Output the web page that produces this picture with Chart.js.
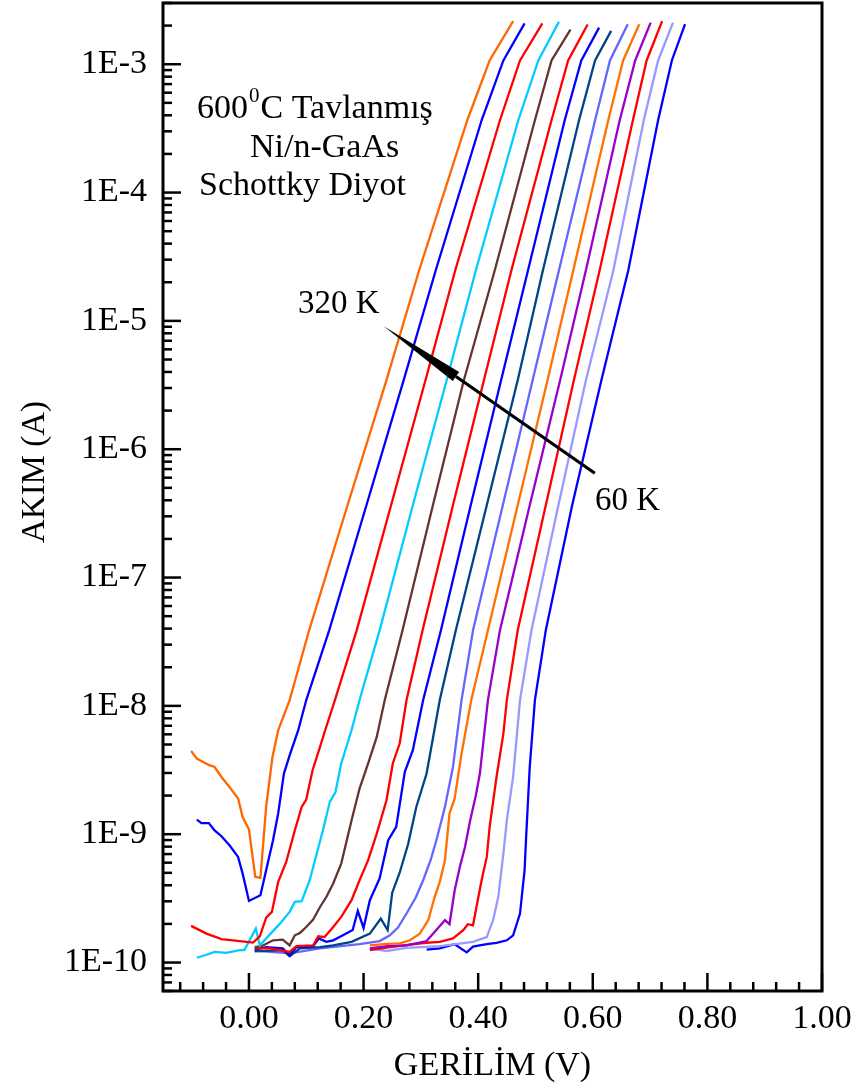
<!DOCTYPE html>
<html>
<head>
<meta charset="utf-8">
<title>Ni/n-GaAs I-V</title>
<script src="https://cdn.jsdelivr.net/npm/chart.js@4.4.0/dist/chart.umd.min.js"></script>
<style>
  html, body { margin: 0; padding: 0; background: #fff; }
  canvas { display: block; }
</style>
</head>
<body>
<canvas id="ivChart" width="860" height="1090"></canvas>
<script>
// forward I-V curves, one per temperature (V in volts, I in amps)
const temps = [320, 300, 280, 260, 240, 220, 200, 180, 160, 140, 120, 100, 80, 60]
const colors = ['#FF6600', '#0000FF', '#FF0000', '#00CCFF', '#663333', '#FF0000', '#0000FF',
  '#004488', '#6666FF', '#FF7000', '#9900CC', '#FF0000', '#9999FF', '#0000FF']

const v320 = [-0.101, -0.091, -0.080, -0.069, -0.060, -0.048, -0.034, -0.019, -0.011, 0.000, 0.011, 0.020, 0.030, 0.041, 0.051, 0.071, 0.105, 0.172, 0.240, 0.297, 0.381, 0.420, 0.461]
const i320 = [4.46e-9, 3.89e-9, 3.66e-9, 3.45e-9, 3.34e-9, 2.79e-9, 2.33e-9, 1.90e-9, 1.36e-9, 1.09e-9, 4.65e-10, 4.56e-10, 1.63e-9, 4.00e-9, 6.46e-9, 1.11e-8, 3.88e-8, 3.66e-7, 3.45e-6, 2.48e-5, 3.66e-4, 1.07e-3, 2.17e-3]

const v300 = [-0.091, -0.083, -0.070, -0.060, -0.048, -0.034, -0.019, -0.011, 0.000, 0.020, 0.030, 0.042, 0.051, 0.061, 0.071, 0.086, 0.100, 0.140, 0.205, 0.270, 0.326, 0.406, 0.444, 0.481]
const i300 = [1.30e-9, 1.22e-9, 1.22e-9, 1.07e-9, 9.64e-10, 8.20e-10, 6.65e-10, 4.93e-10, 3.02e-10, 3.34e-10, 5.24e-10, 8.97e-10, 1.45e-9, 2.97e-9, 4.12e-9, 6.46e-9, 1.11e-8, 3.88e-8, 3.66e-7, 3.45e-6, 2.48e-5, 3.66e-4, 1.07e-3, 2.08e-3]

const v280 = [-0.101, -0.074, -0.048, -0.016, 0.007, 0.019, 0.030, 0.040, 0.051, 0.065, 0.080, 0.092, 0.100, 0.111, 0.124, 0.133, 0.150, 0.188, 0.248, 0.308, 0.360, 0.438, 0.473, 0.512]
const i280 = [1.93e-10, 1.68e-10, 1.52e-10, 1.47e-10, 1.43e-10, 1.60e-10, 2.24e-10, 2.48e-10, 4.25e-10, 6.08e-10, 1.07e-9, 1.63e-9, 1.86e-9, 3.15e-9, 4.79e-9, 6.46e-9, 1.11e-8, 3.88e-8, 3.66e-7, 3.45e-6, 2.48e-5, 3.66e-4, 1.07e-3, 2.08e-3]

const v260 = [-0.091, -0.074, -0.060, -0.040, -0.016, -0.008, 0.012, 0.019, 0.030, 0.054, 0.071, 0.080, 0.092, 0.106, 0.129, 0.141, 0.151, 0.161, 0.179, 0.193, 0.228, 0.286, 0.345, 0.396, 0.470, 0.505, 0.541]
const i260 = [1.09e-10, 1.15e-10, 1.21e-10, 1.19e-10, 1.25e-10, 1.25e-10, 1.84e-10, 1.36e-10, 1.54e-10, 2.01e-10, 2.48e-10, 2.97e-10, 3.01e-10, 4.38e-10, 1.07e-9, 1.78e-9, 2.13e-9, 3.56e-9, 6.46e-9, 1.11e-8, 3.88e-8, 3.66e-7, 3.45e-6, 2.48e-5, 3.66e-4, 1.07e-3, 2.14e-3]

const v240 = [0.010, 0.022, 0.042, 0.059, 0.071, 0.080, 0.089, 0.100, 0.112, 0.124, 0.135, 0.147, 0.161, 0.179, 0.193, 0.208, 0.223, 0.237, 0.268, 0.321, 0.375, 0.429, 0.499, 0.528, 0.561]
const i240 = [1.32e-10, 1.34e-10, 1.49e-10, 1.51e-10, 1.36e-10, 1.63e-10, 1.70e-10, 1.89e-10, 2.16e-10, 2.71e-10, 3.24e-10, 4.13e-10, 5.90e-10, 1.28e-9, 2.27e-9, 3.56e-9, 5.73e-9, 1.11e-8, 3.88e-8, 3.66e-7, 3.45e-6, 2.48e-5, 3.66e-4, 1.07e-3, 1.86e-3]

const v220 = [0.010, 0.036, 0.071, 0.083, 0.112, 0.121, 0.132, 0.147, 0.161, 0.179, 0.193, 0.208, 0.223, 0.240, 0.251, 0.263, 0.275, 0.303, 0.356, 0.410, 0.458, 0.528, 0.557, 0.591]
const i220 = [1.29e-10, 1.29e-10, 1.21e-10, 1.34e-10, 1.36e-10, 1.60e-10, 1.58e-10, 1.89e-10, 2.27e-10, 3.06e-10, 4.38e-10, 6.27e-10, 1.01e-9, 1.84e-9, 3.56e-9, 5.09e-9, 1.11e-8, 3.88e-8, 3.66e-7, 3.45e-6, 2.48e-5, 3.66e-4, 1.07e-3, 2.04e-3]

const v200 = [0.010, 0.030, 0.059, 0.071, 0.083, 0.112, 0.122, 0.135, 0.147, 0.164, 0.181, 0.190, 0.200, 0.211, 0.228, 0.243, 0.257, 0.272, 0.286, 0.304, 0.335, 0.387, 0.440, 0.487, 0.551, 0.580, 0.611]
const i200 = [1.26e-10, 1.32e-10, 1.29e-10, 1.14e-10, 1.32e-10, 1.34e-10, 1.54e-10, 1.45e-10, 1.49e-10, 1.63e-10, 1.79e-10, 2.52e-10, 1.86e-10, 3.06e-10, 4.52e-10, 8.97e-10, 1.14e-9, 3.06e-9, 4.51e-9, 1.11e-8, 3.88e-8, 3.66e-7, 3.45e-6, 2.48e-5, 3.66e-4, 1.07e-3, 1.93e-3]

const v180 = [0.010, 0.059, 0.071, 0.089, 0.124, 0.147, 0.179, 0.211, 0.230, 0.242, 0.250, 0.263, 0.278, 0.292, 0.310, 0.333, 0.361, 0.415, 0.469, 0.513, 0.576, 0.604, 0.632]
const i180 = [1.22e-10, 1.25e-10, 1.12e-10, 1.29e-10, 1.32e-10, 1.36e-10, 1.45e-10, 1.68e-10, 2.20e-10, 1.79e-10, 3.50e-10, 5.01e-10, 8.45e-10, 1.63e-9, 2.97e-9, 1.11e-8, 3.88e-8, 3.66e-7, 3.45e-6, 2.48e-5, 3.66e-4, 1.07e-3, 1.82e-3]

const v160 = [0.010, 0.071, 0.124, 0.193, 0.228, 0.246, 0.260, 0.275, 0.291, 0.304, 0.317, 0.327, 0.336, 0.342, 0.356, 0.371, 0.391, 0.443, 0.495, 0.541, 0.604, 0.630, 0.661]
const i160 = [1.24e-10, 1.18e-10, 1.29e-10, 1.39e-10, 1.47e-10, 1.63e-10, 1.87e-10, 2.41e-10, 3.21e-10, 4.38e-10, 6.27e-10, 8.97e-10, 1.28e-9, 1.63e-9, 3.34e-9, 1.11e-8, 3.88e-8, 3.66e-7, 3.45e-6, 2.48e-5, 3.66e-4, 1.07e-3, 2.05e-3]

const v140 = [0.211, 0.234, 0.263, 0.281, 0.298, 0.313, 0.324, 0.333, 0.342, 0.350, 0.359, 0.371, 0.388, 0.417, 0.469, 0.521, 0.566, 0.627, 0.653, 0.681]
const i140 = [1.36e-10, 1.39e-10, 1.41e-10, 1.49e-10, 1.68e-10, 2.14e-10, 3.24e-10, 4.25e-10, 6.27e-10, 1.45e-9, 1.90e-9, 4.25e-9, 1.11e-8, 3.88e-8, 3.66e-7, 3.45e-6, 2.48e-5, 3.66e-4, 1.07e-3, 2.05e-3]

const v120 = [0.211, 0.240, 0.275, 0.310, 0.327, 0.342, 0.350, 0.359, 0.368, 0.377, 0.386, 0.396, 0.403, 0.417, 0.438, 0.490, 0.543, 0.588, 0.647, 0.674, 0.701]
const i120 = [1.29e-10, 1.34e-10, 1.36e-10, 1.47e-10, 1.79e-10, 2.14e-10, 1.99e-10, 3.66e-10, 5.56e-10, 7.96e-10, 1.28e-9, 2.01e-9, 2.97e-9, 1.11e-8, 3.88e-8, 3.66e-7, 3.45e-6, 2.48e-5, 3.66e-4, 1.07e-3, 2.11e-3]

const v100 = [0.211, 0.246, 0.304, 0.333, 0.356, 0.374, 0.382, 0.391, 0.397, 0.406, 0.415, 0.420, 0.432, 0.444, 0.450, 0.469, 0.518, 0.567, 0.612, 0.670, 0.694, 0.721]
const i100 = [1.25e-10, 1.32e-10, 1.42e-10, 1.45e-10, 1.54e-10, 1.79e-10, 1.99e-10, 1.95e-10, 2.71e-10, 4.38e-10, 6.65e-10, 1.14e-9, 2.79e-9, 6.08e-9, 1.11e-8, 3.88e-8, 3.66e-7, 3.45e-6, 2.48e-5, 3.66e-4, 1.07e-3, 2.17e-3]

const v80 = [0.211, 0.240, 0.275, 0.333, 0.391, 0.415, 0.426, 0.435, 0.444, 0.450, 0.461, 0.473, 0.493, 0.540, 0.588, 0.636, 0.689, 0.714, 0.740]
const i80 = [1.29e-10, 1.23e-10, 1.30e-10, 1.34e-10, 1.45e-10, 1.58e-10, 2.14e-10, 3.24e-10, 7.06e-10, 1.28e-9, 2.81e-9, 1.11e-8, 3.88e-8, 3.66e-7, 3.45e-6, 2.48e-5, 3.66e-4, 1.07e-3, 2.11e-3]

const v60 = [0.310, 0.333, 0.359, 0.380, 0.391, 0.415, 0.432, 0.450, 0.461, 0.473, 0.481, 0.484, 0.490, 0.499, 0.518, 0.564, 0.615, 0.662, 0.714, 0.738, 0.761]
const i60 = [1.26e-10, 1.29e-10, 1.39e-10, 1.20e-10, 1.33e-10, 1.39e-10, 1.42e-10, 1.49e-10, 1.63e-10, 2.41e-10, 5.24e-10, 1.01e-9, 3.34e-9, 1.11e-8, 3.88e-8, 3.66e-7, 3.45e-6, 2.48e-5, 3.66e-4, 1.07e-3, 2.05e-3]

const volts = [v320, v300, v280, v260, v240, v220, v200, v180, v160, v140, v120, v100, v80, v60]
const amps = [i320, i300, i280, i260, i240, i220, i200, i180, i160, i140, i120, i100, i80, i60]

// axis ticks
const xTickValues = [-0.12, -0.08, -0.04, 0.00, 0.04, 0.08, 0.12, 0.16, 0.20, 0.24, 0.28, 0.32, 0.36, 0.40,
  0.44, 0.48, 0.52, 0.56, 0.60, 0.64, 0.68, 0.72, 0.76, 0.80, 0.84, 0.88, 0.92, 0.96, 1.00]
const xTickLabels = ['0.00', '0.20', '0.40', '0.60', '0.80', '1.00']
const yDecades = [-11, -10, -9, -8, -7, -6, -5, -4, -3]
const yTickLabels = ['1E-10', '1E-9', '1E-8', '1E-7', '1E-6', '1E-5', '1E-4', '1E-3']

const serif = "'Liberation Serif', 'Times New Roman', serif"

const yTickValues = []
yDecades.forEach(e => {
  for (let m = 1; m <= 9; m++) {
    const val = m * Math.pow(10, e)
    if (val >= 6e-11 * 0.999 && val <= 3e-3 * 1.001) yTickValues.push(val)
  }
})

function xLabel (v) {
  const s = (Math.round(v * 100) / 100).toFixed(2)
  return xTickLabels.includes(s) ? s : ''
}

function yLabel (v) {
  const e = Math.round(Math.log10(v))
  if (Math.abs(Math.log10(v) - e) > 1e-6) return ''
  const s = '1E' + e
  return yTickLabels.includes(s) ? s : ''
}

const datasets = temps.map((t, k) => ({
  label: t + ' K',
  data: volts[k].map((v, j) => ({ x: v, y: amps[k][j] })),
  borderColor: colors[k],
  borderWidth: 2.3,
  pointRadius: 0,
  tension: 0,
  fill: false
}))

// inward ticks, frame and the text/arrow notes
const decorations = {
  id: 'decorations',
  afterDraw (chart) {
    const { ctx, chartArea: a, scales: { x, y } } = chart
    ctx.save()
    ctx.strokeStyle = '#000'
    ctx.lineCap = 'butt'
    ctx.lineWidth = 2.5

    x.ticks.forEach(t => {
      const px = x.getPixelForValue(t.value)
      const len = xLabel(t.value) ? 18 : 9
      ctx.beginPath()
      ctx.moveTo(px, a.bottom)
      ctx.lineTo(px, a.bottom - len)
      ctx.stroke()
    })
    y.ticks.forEach(t => {
      const py = y.getPixelForValue(t.value)
      const len = yLabel(t.value) ? 18 : 9
      ctx.beginPath()
      ctx.moveTo(a.left, py)
      ctx.lineTo(a.left + len, py)
      ctx.stroke()
    })

    ctx.lineWidth = 3
    ctx.strokeRect(a.left, a.top, a.right - a.left, a.bottom - a.top)

    ctx.fillStyle = '#000'
    ctx.textBaseline = 'alphabetic'

    // y axis title
    ctx.save()
    ctx.translate(44, 472)
    ctx.rotate(-Math.PI / 2)
    ctx.textAlign = 'center'
    ctx.font = '33px ' + serif
    ctx.fillText('AKIM (A)', 0, 0)
    ctx.restore()

    // sample label
    ctx.textAlign = 'left'
    ctx.font = '34px ' + serif
    let cx = 197
    ctx.fillText('600', cx, 118)
    cx += ctx.measureText('600').width
    ctx.font = '21px ' + serif
    ctx.fillText('0', cx + 1, 102)
    cx += ctx.measureText('0').width + 2
    ctx.font = '34px ' + serif
    ctx.fillText('C Tavlanmış', cx, 118)
    ctx.fillText('Ni/n-GaAs', 250, 157)
    ctx.fillText('Schottky Diyot', 199, 195)

    // temperature arrow, 60 K -> 320 K
    const tail = { x: x.getPixelForValue(0.6036), y: y.getPixelForValue(6.5e-7) }
    const tip = { x: x.getPixelForValue(0.2352), y: y.getPixelForValue(9.09e-6) }
    const dx = tip.x - tail.x
    const dy = tip.y - tail.y
    const len = Math.hypot(dx, dy)
    const ux = dx / len
    const uy = dy / len
    const headLen = 88
    const headHalf = 5.5
    const bx = tip.x - ux * headLen
    const by = tip.y - uy * headLen
    ctx.lineWidth = 3.2
    ctx.beginPath()
    ctx.moveTo(tail.x, tail.y)
    ctx.lineTo(bx, by)
    ctx.stroke()
    ctx.beginPath()
    ctx.moveTo(tip.x, tip.y)
    ctx.lineTo(bx - uy * headHalf, by + ux * headHalf)
    ctx.lineTo(bx + uy * headHalf, by - ux * headHalf)
    ctx.closePath()
    ctx.fill()

    ctx.font = '33px ' + serif
    ctx.fillText('320 K', 298, 313)
    ctx.fillText('60 K', 595, 510)
    ctx.restore()
  }
}

const ctx = document.getElementById('ivChart')
// eslint-disable-next-line no-unused-vars
const ivChart = new Chart(ctx, {
  type: 'line',
  data: { datasets },
  plugins: [decorations],
  options: {
    responsive: false,
    animation: false,
    devicePixelRatio: 1,
    layout: { padding: { left: 0, right: 38, top: 3, bottom: 0 } },
    plugins: {
      legend: { display: false },
      tooltip: { enabled: false }
    },
    scales: {
      x: {
        type: 'linear',
        min: -0.15,
        max: 1.0,
        afterBuildTicks: scale => { scale.ticks = xTickValues.map(v => ({ value: v })) },
        afterFit: scale => {
          scale.height = 99
          scale.paddingLeft = 0
          scale.paddingRight = 0
        },
        grid: { display: false, drawTicks: false },
        border: { display: false },
        ticks: {
          autoSkip: false,
          maxRotation: 0,
          padding: 8,
          color: '#000',
          font: { family: serif, size: 34 },
          callback: v => xLabel(v)
        },
        title: {
          display: true,
          text: 'GERİLİM (V)',
          color: '#000',
          font: { family: serif, size: 34 },
          padding: { top: 0, bottom: 4 }
        }
      },
      y: {
        type: 'logarithmic',
        min: 6e-11,
        max: 3e-3,
        afterBuildTicks: scale => { scale.ticks = yTickValues.map(v => ({ value: v })) },
        afterFit: scale => {
          scale.width = 163
          scale.paddingTop = 0
          scale.paddingBottom = 0
        },
        grid: { display: false, drawTicks: false },
        border: { display: false },
        ticks: {
          autoSkip: false,
          padding: 16,
          color: '#000',
          font: { family: serif, size: 34 },
          callback: v => yLabel(v)
        },
        title: { display: false }
      }
    }
  }
})
</script>
</body>
</html>
